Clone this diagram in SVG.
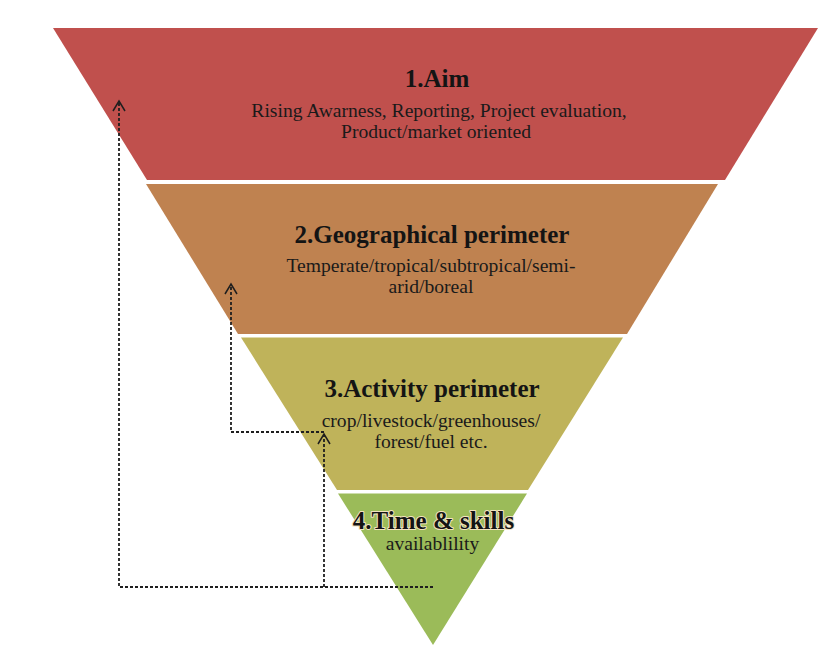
<svg xmlns="http://www.w3.org/2000/svg" width="820" height="668" viewBox="0 0 820 668">
<style>
.title{font-family:"Liberation Serif","Times New Roman",serif;font-weight:bold;font-size:25px;fill:#141414;text-anchor:middle}
.sub{font-family:"Liberation Serif","Times New Roman",serif;font-size:19.6px;fill:#1a1a1a;text-anchor:middle}
.conn{fill:none;stroke:#1e1e1e;stroke-width:1.8;stroke-dasharray:3 2}
.glow{paint-order:stroke;stroke:#f3e3c0;stroke-width:2;stroke-linejoin:round}
</style>
<defs>
<marker id="arr" markerUnits="userSpaceOnUse" markerWidth="16" markerHeight="16" viewBox="-12 -8 14 16" refX="0" refY="0" orient="auto">
<path d="M-10,-6 L0,0 L-10,6" fill="none" stroke="#1e1e1e" stroke-width="1.5"/>
</marker>
</defs>
<rect width="820" height="668" fill="#ffffff"/>
<g id="band1">
<polygon points="53,28 818,28 725,180 147,180" fill="#C0504D"/>
<text class="title" x="437" y="87">1.Aim</text>
<text class="sub" x="439" y="117">Rising Awarness, Reporting, Project evaluation,</text>
<text class="sub" x="436" y="138">Product/market oriented</text>
</g>
<g id="band2">
<polygon points="146,184 718,184 627,334 238,334" fill="#BF8250"/>
<text class="title" x="432" y="243">2.Geographical perimeter</text>
<text class="sub" x="431" y="272">Temperate/tropical/subtropical/semi-</text>
<text class="sub" x="431" y="293">arid/boreal</text>
</g>
<g id="band3">
<polygon points="241,337.5 623,337.5 528,490 337,490" fill="#BFB35A"/>
<text class="title" x="432" y="397">3.Activity perimeter</text>
<text class="sub" x="431" y="427">crop/livestock/greenhouses/</text>
<text class="sub" x="431" y="448">forest/fuel etc.</text>
</g>
<g id="band4">
<polygon points="338,493.5 527,493.5 433,645" fill="#9BBB59"/>
<text class="title glow" x="433.5" y="529">4.Time &amp; skills</text>
<text class="sub" x="432.5" y="550">availablility</text>
</g>
<g id="connectors">
<path class="conn" d="M433,587 H119 V101" marker-end="url(#arr)"/>
<path class="conn" d="M324,587 V434" marker-end="url(#arr)"/>
<path class="conn" d="M324,432 H231 V284" marker-end="url(#arr)"/>
</g>
</svg>
